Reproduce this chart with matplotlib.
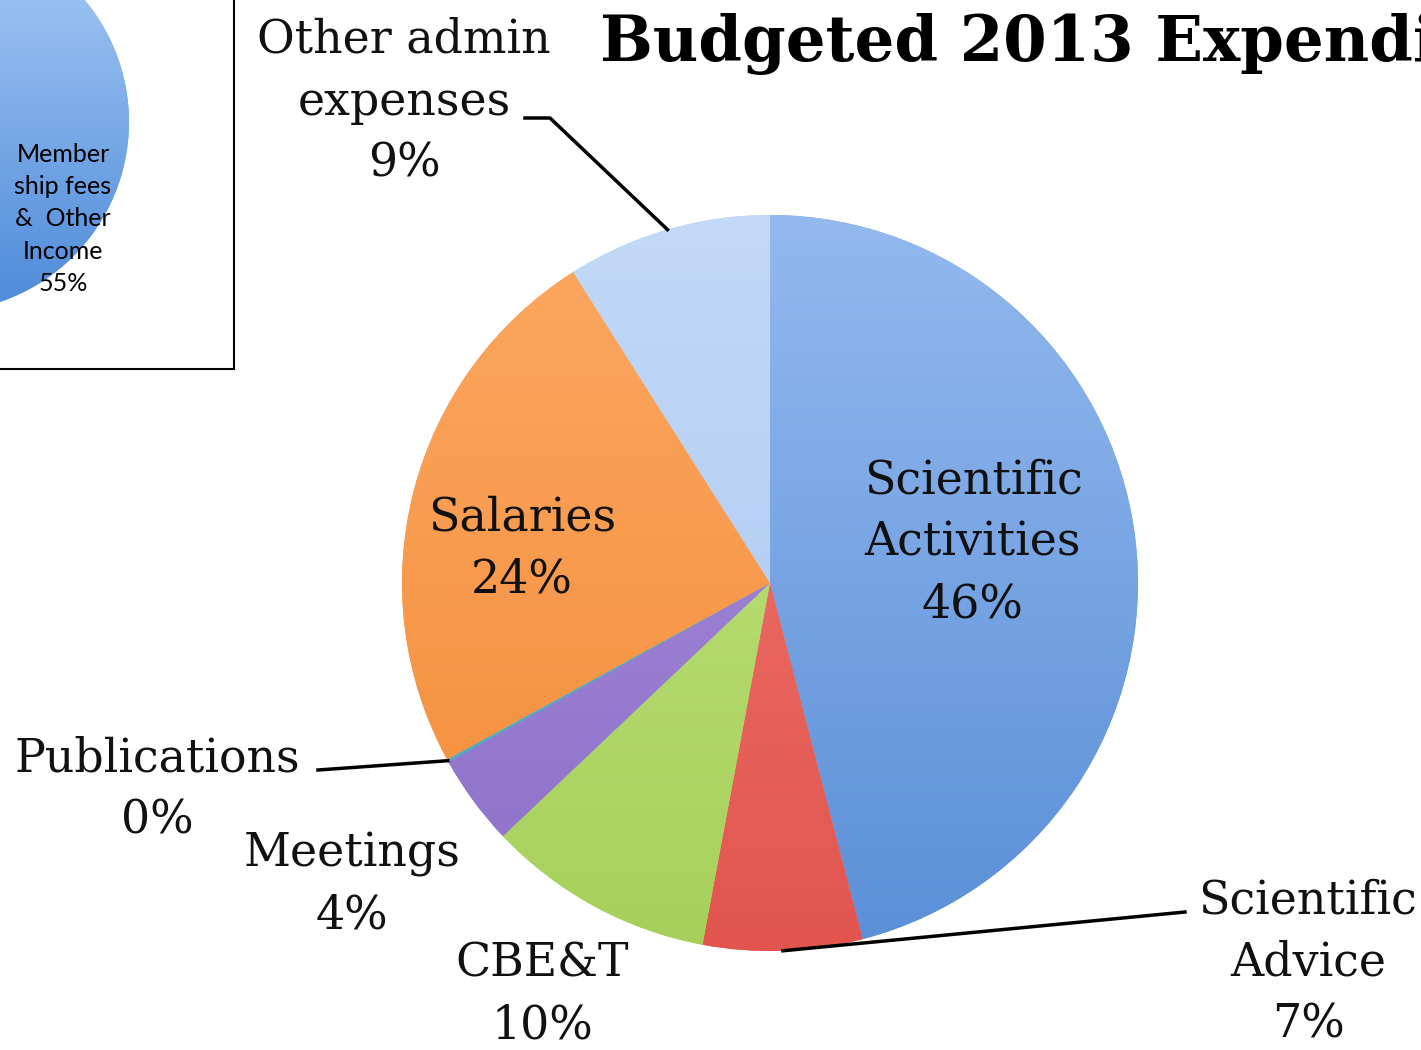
import numpy as np
import matplotlib.pyplot as plt
from matplotlib.patches import Circle, Rectangle
from matplotlib.colors import LinearSegmentedColormap

W, H = 1421, 1050

labels = ["Scientific\nActivities", "Scientific\nAdvice", "CBE&T", "Meetings",
          "Publications", "Salaries", "Other admin\nexpenses"]
pct = [46, 7, 10, 4, 0, 24, 9]
colors = ["#76a5e4", "#e9615c", "#b7dc6e", "#9a80d2", "#4bacc6", "#f89a4c", "#b8d1f4"]
# lighter (top) / darker (bottom) shade of each slice
shades = [("#93b9ee", "#5a8fd8"), ("#f07a72", "#e2554f"), ("#c4e585", "#a6d05a"),
          ("#a78fdc", "#8d70c8"), ("#4bacc6", "#4bacc6"), ("#fba862", "#f48c38"),
          ("#c2d9f7", "#aac7f0")]

inc_label = "Member\nship fees\n&  Other\nIncome"
inc_pct = 55

title = "Budgeted 2013 Expenditure"

SERIF = ["DejaVu Serif"]


def Y(y):
    return H - y


fig = plt.figure(figsize=(W / 100, H / 100), dpi=100)
ax = fig.add_axes([0, 0, 1, 1])

cx, cy, r = 770, Y(583), 368
vals = np.maximum(np.array(pct, dtype=float), 0.12)
wedges, _ = ax.pie(vals, colors=colors, startangle=90, counterclock=False,
                   center=(cx, cy), radius=r, frame=True,
                   wedgeprops=dict(linewidth=0))

grad = np.linspace(1, 0, 256).reshape(-1, 1)
for w, (lo, hi) in zip(wedges, shades):
    cm = LinearSegmentedColormap.from_list("g", [hi, lo])
    im = ax.imshow(grad, cmap=cm, extent=(cx - r, cx + r, cy - r, cy + r),
                   aspect="auto", zorder=w.get_zorder() + 0.1)
    im.set_clip_path(w)

# labels inside the two big slices
kw = dict(ha="center", va="center", fontsize=33, family=SERIF,
          linespacing=1.48, color="#111111", zorder=6)
ax.text(973, Y(543), labels[0] + "\n%d%%" % pct[0], **kw)
ax.text(522, Y(549), labels[5] + "\n%d%%" % pct[5], **kw)

# outside labels
outside = {1: (1308, 963), 2: (542, 995), 3: (352, 885), 4: (157, 790), 6: (404, 102)}
for i, (x, y) in outside.items():
    ax.text(x, Y(y), labels[i] + "\n%d%%" % pct[i], **kw)


def edge(i):
    w = wedges[i]
    a = np.deg2rad((w.theta1 + w.theta2) / 2)
    return cx + r * np.cos(a), cy + r * np.sin(a)

# leader lines
ex, ey = edge(6)
ax.plot([525, 550, ex], [Y(118), Y(118), ey], color="black", lw=2.5, zorder=6)
ex, ey = edge(4)
ax.plot([318, ex], [Y(770), ey], color="black", lw=2.5, zorder=6)
ex, ey = edge(1)
ax.plot([1185, ex], [Y(912), ey], color="black", lw=2.5, zorder=6)

ax.text(600, Y(44), title, ha="left", va="center", fontsize=45,
        family=SERIF, fontweight="bold", color="black", zorder=6)

# income inset box
inc = Circle((-61, Y(122)), 190, facecolor="#7aaae6", edgecolor="none", zorder=3)
ax.add_patch(inc)
im = ax.imshow(grad, cmap=LinearSegmentedColormap.from_list("b", ["#4d8ad9", "#a9cbf6"]),
               extent=(-251, 129, Y(312), Y(-68)), aspect="auto", zorder=3.1)
im.set_clip_path(inc)
ax.add_patch(Rectangle((-2, Y(369)), 236, 371, facecolor="none", edgecolor="black",
                       lw=1.5, zorder=4))
ax.text(63, Y(219), inc_label + "\n%d%%" % inc_pct, ha="center", va="center",
        fontsize=18, family=["Lato", "DejaVu Sans"], linespacing=1.49, zorder=5)

ax.set_xlim(0, W)
ax.set_ylim(0, H)
ax.set_aspect("equal")
ax.axis("off")
fig.savefig("out.png", dpi=100)
